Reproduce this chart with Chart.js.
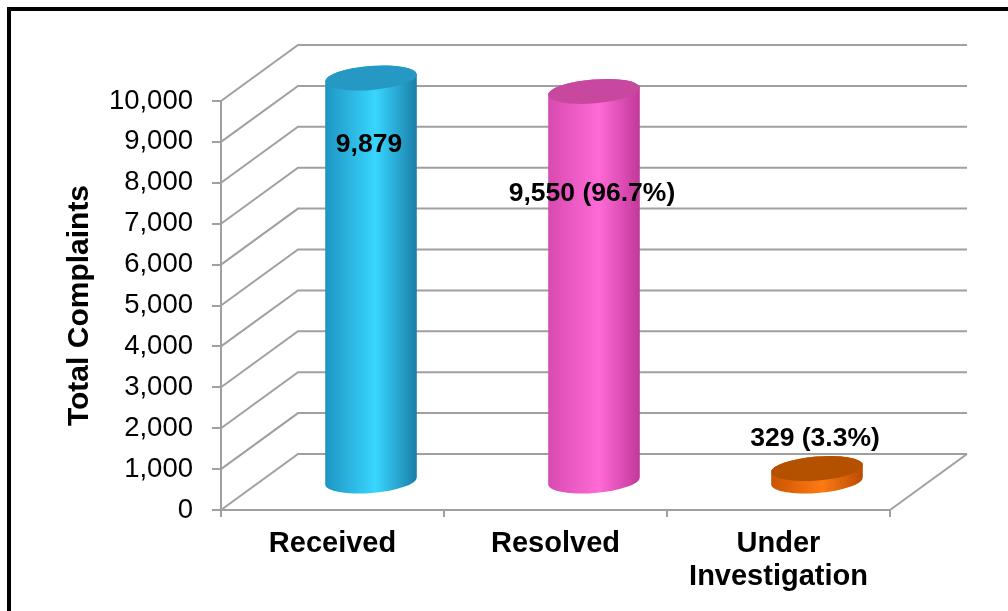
<!DOCTYPE html>
<html>
<head>
<meta charset="utf-8">
<script src="https://cdn.jsdelivr.net/npm/chart.js@4"></script>
<style>
  body { margin: 0; background: #fff; }
  #frame { position: absolute; left: 7px; top: 7px; width: 1020px; height: 620px; border: 4px solid #000; }
  #chart { position: absolute; left: 0; top: 0; }
</style>
</head>
<body>
<div id="frame"></div>
<canvas id="chart" width="1008" height="611"></canvas>
<script>
// values
const categories = [['Received'], ['Resolved'], ['Under', 'Investigation']];
const complaints = [9879, 9550, 329];
const yMax = 10000;
const yStep = 1000;

// cylinder colours: [left edge, highlight, right edge, top]
const cylinderColors = [
  ['#1e95c2', '#38d6ff', '#1a7ea8', '#2599c3'],
  ['#d84ab0', '#ff6ad6', '#c2389a', '#c8479f'],
  ['#c85400', '#ff7a14', '#b94c00', '#b35100'],
];

const FONT = '"Liberation Sans", Arial, sans-serif';
const GRID = '#a0a0a0';
const DEPTH_X = 77, DEPTH_Y = -56; // back wall offset

// label text: total for first bar, share of total for the rest
const labelText = (v, i) => {
  const s = v.toLocaleString('en-US');
  if (i === 0) return s;
  return `${s} (${((v / complaints[0]) * 100).toFixed(1)}%)`;
};
// where the value labels sit relative to the bar top (px)
const labelOffsets = [39, 74, -58];

const wallPlugin = {
  id: 'wall3d',
  beforeDatasetsDraw(chart) {
    const { ctx, chartArea, scales } = chart;
    const y = scales.y;
    ctx.save();
    ctx.strokeStyle = GRID;
    ctx.lineWidth = 2;
    y.ticks.forEach((t) => {
      const py = y.getPixelForValue(t.value);
      ctx.beginPath();
      ctx.moveTo(chartArea.left, py);
      ctx.lineTo(chartArea.left + DEPTH_X, py + DEPTH_Y);
      ctx.lineTo(chartArea.right + DEPTH_X, py + DEPTH_Y);
      ctx.stroke();
    });
    // floor right edge
    ctx.beginPath();
    ctx.moveTo(chartArea.right, chartArea.bottom);
    ctx.lineTo(chartArea.right + DEPTH_X, chartArea.bottom + DEPTH_Y);
    ctx.stroke();
    ctx.restore();
  },
};

const cylinderPlugin = {
  id: 'cylinders',
  afterDatasetsDraw(chart) {
    const { ctx } = chart;
    const meta = chart.getDatasetMeta(0);
    const rot = -0.08;
    meta.data.forEach((bar, i) => {
      const cx = bar.x + DEPTH_X / 2;
      const top = bar.y + DEPTH_Y / 2;
      const bottom = bar.base + DEPTH_Y / 2;
      const rx = bar.width / 2;
      const ry = 12;
      const c = cylinderColors[i];

      const g = ctx.createLinearGradient(cx - rx, 0, cx + rx, 0);
      g.addColorStop(0, c[0]);
      g.addColorStop(0.55, c[1]);
      g.addColorStop(1, c[2]);

      ctx.save();
      ctx.beginPath();
      ctx.ellipse(cx, bottom, rx, ry, rot, 0, Math.PI);
      ctx.ellipse(cx, top, rx, ry, rot, Math.PI, Math.PI * 2);
      ctx.closePath();
      ctx.fillStyle = g;
      ctx.fill();

      ctx.beginPath();
      ctx.ellipse(cx, top, rx, ry, rot, 0, Math.PI * 2);
      ctx.fillStyle = c[3];
      ctx.fill();
      ctx.restore();

      // value label
      ctx.save();
      ctx.font = `bold 26.5px ${FONT}`;
      ctx.fillStyle = '#000';
      ctx.textAlign = 'center';
      ctx.textBaseline = 'middle';
      ctx.fillText(labelText(complaints[i], i), cx - 2, bar.y + labelOffsets[i]);
      ctx.restore();
    });
  },
};

new Chart(document.getElementById('chart'), {
  type: 'bar',
  data: {
    labels: categories,
    datasets: [
      {
        data: complaints,
        backgroundColor: 'rgba(0,0,0,0)',
        borderWidth: 0,
        categoryPercentage: 0.8,
        barPercentage: 0.515,
      },
    ],
  },
  options: {
    responsive: false,
    animation: false,
    layout: { padding: { top: 101, right: 118, left: 0, bottom: 0 } },
    plugins: { legend: { display: false }, tooltip: { enabled: false } },
    scales: {
      x: {
        grid: { drawOnChartArea: false, color: GRID, lineWidth: 2, tickLength: 7, offset: true },
        border: { color: GRID, width: 2 },
        ticks: {
          color: '#000',
          font: { family: FONT, size: 29, weight: 'bold', lineHeight: 1.14 },
          padding: 10,
          maxRotation: 0,
          autoSkip: false,
        },
        afterFit: (s) => { s.height = 101; },
      },
      y: {
        min: 0,
        max: yMax,
        ticks: {
          stepSize: yStep,
          color: '#000',
          font: { family: FONT, size: 27.5 },
          padding: 19,
          callback: (v) => v.toLocaleString('en-US'),
        },
        grid: { drawOnChartArea: false, color: GRID, lineWidth: 2, tickLength: 9 },
        border: { color: GRID, width: 2 },
        title: {
          display: true,
          text: 'Total Complaints',
          color: '#000',
          font: { family: FONT, size: 30, weight: 'bold' },
          padding: { top: 62, bottom: 0 },
        },
        afterFit: (s) => { s.width = 221; },
      },
    },
  },
  plugins: [wallPlugin, cylinderPlugin],
});
</script>
</body>
</html>
